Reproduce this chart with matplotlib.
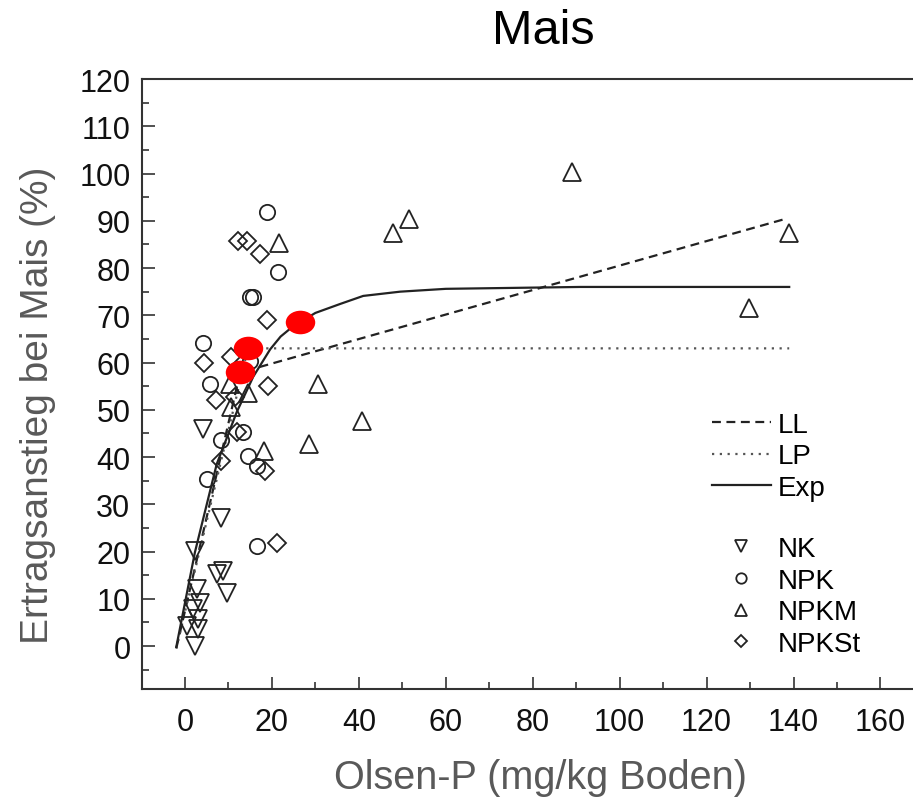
import matplotlib
matplotlib.use("Agg")
import matplotlib.pyplot as plt
from matplotlib.lines import Line2D
from matplotlib.path import Path
from matplotlib.transforms import Affine2D
from matplotlib.ticker import MultipleLocator

plt.rcParams['font.family'] = ['Liberation Sans', 'DejaVu Sans']

# --- data ---
nk_x = [4.2, 8.4, 2.3, 8.8, 7.3, 9.6, 2.7, 3.5, 1.9, 3.1, 0.4, 3.1, 2.3]
nk_y = [45.9, 27.0, 20.2, 15.9, 15.2, 11.3, 12.1, 9.2, 7.8, 5.7, 4.3, 3.6, 0.1]

npk_x = [18.8, 21.5, 15.0, 15.7, 4.2, 15.0, 5.75, 13.4, 14.6, 16.5, 5.0, 8.4, 16.5]
npk_y = [91.8, 79.1, 73.8, 73.8, 64.2, 60.4, 55.4, 45.2, 40.3, 38.2, 35.3, 43.5, 21.2]

npkm_x = [89.1, 51.6, 47.9, 139.0, 21.6, 129.8, 30.6, 40.7, 28.5, 18.2, 14.6, 10.4, 10.7]
npkm_y = [100.3, 90.4, 87.4, 87.4, 85.3, 71.5, 55.4, 47.6, 42.8, 41.3, 53.5, 55.4, 50.6]

npkst_x = [12.3, 14.2, 17.3, 18.8, 4.4, 10.7, 19.2, 7.1, 11.5, 11.9, 8.4, 18.4, 21.1]
npkst_y = [85.8, 85.8, 83.0, 68.9, 60.0, 61.1, 55.1, 52.1, 52.6, 45.2, 39.2, 37.1, 21.9]

ll_x = [-2.0, 12.7, 138.5]
ll_y = [-0.5, 57.9, 90.5]

lp_x = [-2.0, 14.5, 139.0]
lp_y = [-0.5, 63.0, 63.0]

exp_x = [-2.0, 2.3, 7.3, 11.9, 15.7, 19.6, 22.0, 24.9, 30.0, 35.7, 41.0, 49.5, 60.0, 91.0, 139.0]
exp_y = [-0.2, 19.9, 38.5, 49.5, 57.0, 62.8, 65.5, 67.7, 70.5, 72.4, 74.1, 75.0, 75.6, 76.0, 76.0]

red_x = [12.7, 14.5, 26.5]
red_y = [57.9, 63.0, 68.6]

x_ticks = [0, 20, 40, 60, 80, 100, 120, 140, 160]

fig = plt.figure(figsize=(9.13, 8.03), dpi=100)
ax = fig.add_axes([0.155, 0.1413, 0.857, 0.759])

ink = '#222222'
dash = (0, (4, 2.5))
dots = (0, (1, 2.5))
ax.plot(ll_x, ll_y, color=ink, lw=1.6, ls=dash)
ax.plot(lp_x, lp_y, color='#555555', lw=1.6, ls=dots)
ax.plot(exp_x, exp_y, color=ink, lw=1.6, ls='-')

mk = dict(ls='none', mfc='none', mec=ink, mew=1.3)
ax.plot(nk_x, nk_y, marker='v', ms=13.5, **mk)
ax.plot(npk_x, npk_y, marker='o', ms=11, **mk)
ax.plot(npkm_x, npkm_y, marker='^', ms=13.5, **mk)
ax.plot(npkst_x, npkst_y, marker='D', ms=9, **mk)

# red highlight dots (flattened ellipses)
ellipse = Path.unit_circle().transformed(Affine2D().scale(1.0, 0.8))
ax.scatter(red_x, red_y, s=450, marker=ellipse, color='#ff0000', zorder=5,
           linewidths=0)

ax.set_xlim(-10, 170)
ax.set_ylim(-9, 120)
ax.set_xticks(x_ticks, [str(t) for t in x_ticks], fontsize=22,
              fontfamily=['Liberation Sans Narrow', 'Liberation Sans'])
ax.xaxis.set_minor_locator(MultipleLocator(10))
ax.yaxis.set_major_locator(MultipleLocator(10))
ax.yaxis.set_minor_locator(MultipleLocator(5))
ax.tick_params(which='both', direction='in', top=False, right=False,
               color='#333333', width=1.2, labelcolor='#111111')
ax.tick_params(which='major', length=9)
ax.tick_params(which='minor', length=5)
ax.tick_params(axis='y', labelsize=22, pad=8)
ax.tick_params(axis='x', pad=13)
for s in ax.spines.values():
    s.set_color('#333333')
    s.set_linewidth(1.5)

fig.text(543 / 913, 1 - 32 / 803, 'Mais', fontsize=35, ha='center', va='center')
ax.set_xlabel('Olsen-P (mg/kg Boden)', fontsize=28.5, color='#595959', va='center')
ax.xaxis.set_label_coords(0.5096, -0.145)
ax.set_ylabel('Ertragsanstieg bei Mais (%)', fontsize=28, color='#595959', va='center')
ax.yaxis.set_label_coords(-0.132, 0.467)

line_handles = [
    Line2D([], [], color=ink, lw=1.6, ls=dash),
    Line2D([], [], color='#555555', lw=1.6, ls=dots),
    Line2D([], [], color=ink, lw=1.6),
]
leg_kw = dict(loc='center left', frameon=False, fontsize=20, handlelength=2.1,
              handletextpad=0.25, labelspacing=0.2, borderpad=0, borderaxespad=0)
leg1 = ax.legend(line_handles, ['LL', 'LP', 'Exp'], bbox_to_anchor=(0.7295, 0.381), **leg_kw)
ax.add_artist(leg1)

mk_handles = [
    Line2D([], [], marker='v', ms=8.5, **mk),
    Line2D([], [], marker='o', ms=7.5, **mk),
    Line2D([], [], marker='^', ms=8.5, **mk),
    Line2D([], [], marker='D', ms=6, **mk),
]
ax.legend(mk_handles, ['NK', 'NPK', 'NPKM', 'NPKSt'], bbox_to_anchor=(0.7295, 0.151), **leg_kw)

fig.savefig('out.png', dpi=100)
